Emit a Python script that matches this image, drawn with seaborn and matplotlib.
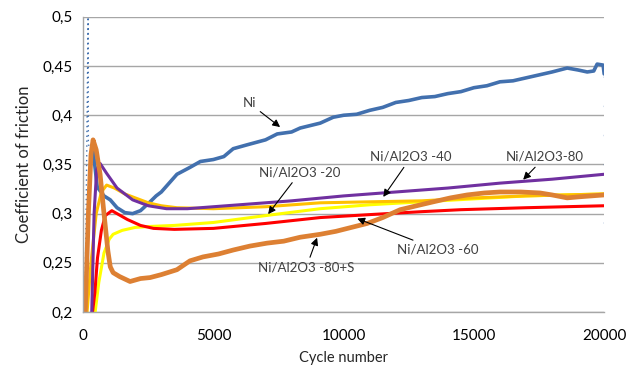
import numpy as np
import pandas as pd
import matplotlib
matplotlib.use('Agg')
import matplotlib.pyplot as plt
import seaborn as sns
from matplotlib.ticker import FuncFormatter, MultipleLocator

# coefficient of friction vs cycle number

ni_x = [380, 540, 800, 1040, 1300, 1600, 1900, 2200, 2570, 2800, 3000, 3300, 3600, 4100, 4500,
        5000, 5400, 5760, 6300, 7000, 7450, 8000, 8330, 9100, 9600, 10000, 10500, 11000, 11500,
        12000, 12500, 13000, 13500, 14000, 14500, 15000, 15500, 16000, 16500, 17000, 17500,
        18000, 18580, 19000, 19350, 19600, 19730, 19960, 20000]
ni_y = [0.365, 0.327, 0.318, 0.314, 0.306, 0.301, 0.300, 0.303, 0.312, 0.318, 0.322, 0.331, 0.340, 0.347, 0.353,
        0.355, 0.358, 0.366, 0.370, 0.375, 0.381, 0.383, 0.387, 0.392, 0.398, 0.400, 0.401, 0.405, 0.408,
        0.413, 0.415, 0.418, 0.419, 0.422, 0.424, 0.428, 0.430, 0.434, 0.435, 0.438, 0.441,
        0.444, 0.448, 0.446, 0.444, 0.445, 0.452, 0.451, 0.442]
# dotted spike at the start of the Ni test
ni_dot_x = [60, 110, 190, 200, 380]
ni_dot_y = [0.2, 0.29, 0.5, 0.37, 0.365]

yel_x = [460, 600, 800, 1000, 1150, 1500, 2000, 2600, 3500, 4500, 5000, 7000, 9100, 11000, 13000, 15000, 17000, 20000]
yel_y = [0.2, 0.23, 0.26, 0.274, 0.279, 0.283, 0.286, 0.287, 0.288, 0.290, 0.291, 0.298, 0.305, 0.309, 0.312, 0.315, 0.318, 0.320]

gold_x = [150, 300, 500, 700, 900, 1200, 1600, 2000, 2500, 3000, 3600, 5000, 7000, 9100, 11000, 13000, 15000, 17000, 20000]
gold_y = [0.2, 0.25, 0.30, 0.322, 0.329, 0.326, 0.320, 0.316, 0.311, 0.308, 0.306, 0.305, 0.307, 0.311, 0.312, 0.313, 0.316, 0.318, 0.320]

red_x = [360, 450, 550, 700, 850, 1100, 1300, 1700, 2200, 2700, 3500, 5000, 7000, 9100, 11000, 13000, 14500, 17000, 20000]
red_y = [0.2, 0.22, 0.255, 0.283, 0.298, 0.303, 0.300, 0.294, 0.288, 0.285, 0.284, 0.285, 0.290, 0.296, 0.299, 0.302, 0.304, 0.306, 0.308]

pur_x = [330, 420, 520, 650, 900, 1300, 1900, 2500, 3200, 4000, 6000, 8000, 10000, 12000, 14000, 16000, 18000, 20000]
pur_y = [0.2, 0.30, 0.345, 0.351, 0.341, 0.326, 0.314, 0.308, 0.305, 0.305, 0.309, 0.313, 0.318, 0.322, 0.326, 0.331, 0.335, 0.340]

org_x = [80, 200, 300, 380, 500, 650, 800, 950, 1040, 1150, 1400, 1800, 2200, 2570, 3000, 3600, 4100,
         4600, 5200, 5760, 6400, 7060, 7700, 8330, 9100, 9700, 10300, 10900, 11500, 12170, 12800,
         13440, 14100, 14740, 15400, 16000, 16800, 17540, 18000, 18580, 19000, 19500, 20000]
org_y = [0.2, 0.30, 0.36, 0.375, 0.365, 0.34, 0.30, 0.262, 0.246, 0.240, 0.236, 0.231, 0.234, 0.235, 0.238, 0.243, 0.252,
         0.256, 0.259, 0.263, 0.267, 0.270, 0.272, 0.276, 0.279, 0.282, 0.286, 0.290, 0.296, 0.304, 0.308,
         0.312, 0.316, 0.319, 0.321, 0.322, 0.322, 0.321, 0.319, 0.316, 0.317, 0.318, 0.319]

# annotations: label, text position, arrow tip
labels = ['Ni', 'Ni/Al2O3 -20', 'Ni/Al2O3 -40', 'Ni/Al2O3-80', 'Ni/Al2O3 -60', 'Ni/Al2O3 -80+S']
text_pos = [(6370, 0.4125), (8330, 0.342), (12590, 0.3576), (17730, 0.3576), (13630, 0.2631), (8560, 0.2449)]
tip_pos = [(7560, 0.388), (7100, 0.2995), (11520, 0.317), (16890, 0.3345), (10520, 0.295), (8980, 0.2755)]

sns.set_style('white')
plt.rcParams['font.family'] = ['Lato', 'DejaVu Sans']

fig = plt.figure(figsize=(6.3, 3.75), dpi=100)
ax = fig.add_axes([0.132, 0.168, 0.827, 0.787])

ax.grid(True, axis='y', color='#a6a6a6', linewidth=1)
ax.set_axisbelow(True)

ax.plot(ni_dot_x, ni_dot_y, color='#4270ae', linewidth=1.0, linestyle=(0, (1, 2.5)))
ax.plot([20000, 20000], [0.44, 0.27], color='#4270ae', linewidth=1.0, linestyle=(0, (1, 20)))

series = [
    (ni_x, ni_y, '#4270ae', 2.6),
    (yel_x, yel_y, '#ffff00', 2.2),
    (gold_x, gold_y, '#ffc000', 2.2),
    (red_x, red_y, '#ff0000', 2.2),
    (pur_x, pur_y, '#7030a0', 2.2),
    (org_x, org_y, '#dd8033', 3.4),
]
for xs, ys, col, lw in series:
    sns.lineplot(x=xs, y=ys, ax=ax, color=col, linewidth=lw, sort=False, estimator=None)

for lab, tp, ap in zip(labels, text_pos, tip_pos):
    ax.annotate(lab, xy=ap, xytext=tp, fontsize=9.5, color='#404040', ha='center', va='center',
                arrowprops=dict(arrowstyle='-|>', color='black', lw=0.8, mutation_scale=11,
                                shrinkA=1, shrinkB=0))

ax.set_xlim(0, 20000)
ax.set_ylim(0.2, 0.5)
ax.xaxis.set_major_locator(MultipleLocator(5000))
ax.yaxis.set_major_locator(MultipleLocator(0.05))
ax.yaxis.set_major_formatter(FuncFormatter(lambda v, p: f'{v:.2f}'.rstrip('0').rstrip('.').replace('.', ',')))
ax.xaxis.set_major_formatter(FuncFormatter(lambda v, p: f'{int(v)}'))

for s in ['top', 'right']:
    ax.spines[s].set_visible(False)
for s in ['left', 'bottom']:
    ax.spines[s].set_color('#a6a6a6')
    ax.spines[s].set_linewidth(1)
ax.tick_params(axis='both', colors='#a6a6a6', labelcolor='black', labelsize=11, length=4, width=1)
ax.tick_params(axis='x', pad=8)

ax.set_xlabel('Cycle number', fontsize=10.5, labelpad=6)
ax.set_ylabel('Coefficient of friction', fontsize=12, labelpad=8)

fig.savefig('out.png', dpi=100)
